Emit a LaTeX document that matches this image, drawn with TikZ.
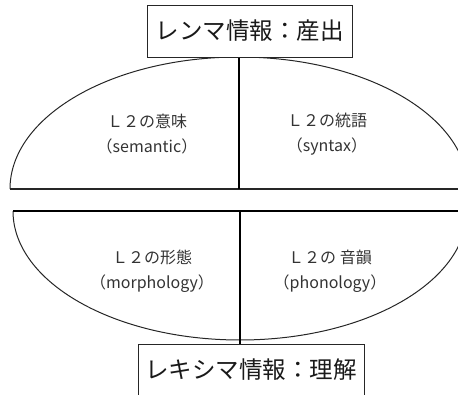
\documentclass[tikz,border=0pt]{standalone}
\usepackage{fontspec}
\setmainfont{Noto Sans CJK JP}
\begin{document}
\begin{tikzpicture}[x=1pt,y=-1pt,
  lbl/.style={align=center,text=black!80,font=\fontsize{16}{25}\selectfont},
  boxtxt/.style={text=black!90,font=\fontsize{23.5}{28}\selectfont},
  outline/.style={draw=black!85,line width=1pt},
  divider/.style={draw=black,line width=1.8pt}]
\useasboundingbox (0,0) rectangle (458,394);
\clip (0,0) rectangle (458,394);
% upper half
\draw[outline] (10,189) arc[start angle=180,end angle=0,x radius=229,y radius=-132];
\draw[outline,line width=1.3pt] (10,189) -- (468,189);
% lower half
\draw[outline] (13,211) arc[start angle=180,end angle=360,x radius=227,y radius=-129];
\draw[divider] (13,211) -- (470,211);
% boxes
\node[outline,fill=white,minimum width=205pt,minimum height=52pt,inner sep=0pt,boxtxt] (top) at (249.5,31) {レンマ情報：産出};
\node[outline,fill=white,minimum width=226pt,minimum height=60pt,inner sep=0pt,anchor=north] (bot) at (251,344) {};
\node[boxtxt] (bottxt) at (251,370) {レキシマ情報：理解};
% dividers
\coordinate (ua) at (239,189);
\coordinate (la) at (240,211);
\draw[divider] (top.south -| ua) -- (ua);
\draw[divider] (la) -- (bot.north -| la);
% labels
\node[lbl] (sem) at (147,134) {Ｌ２の意味\\（semantic）};
\node[lbl] (syn) at (327,134) {Ｌ２の統語\\（syntax）};
\node[lbl] (mor) at (152,271) {Ｌ２の形態\\（morphology）};
\node[lbl] (pho) at (330,271) {Ｌ２の 音韻\\（phonology）};
\end{tikzpicture}
\end{document}
